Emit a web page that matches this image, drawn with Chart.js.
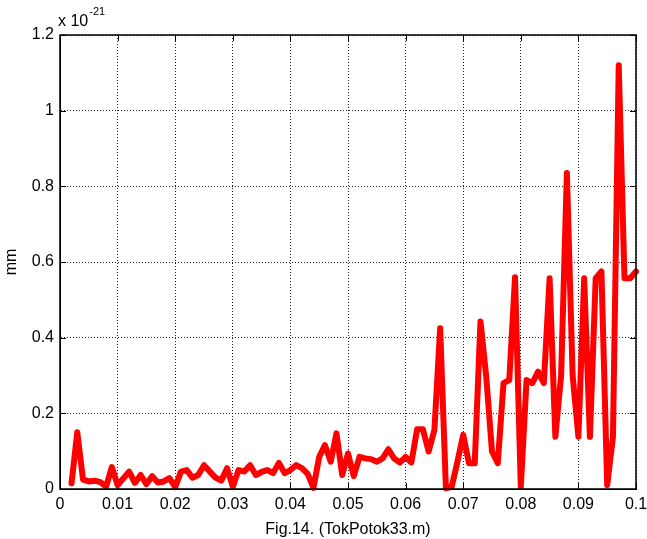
<!DOCTYPE html>
<html>
<head>
<meta charset="utf-8">
<title>Fig.14. (TokPotok33.m)</title>
<script src="https://cdn.jsdelivr.net/npm/chart.js@4.4.1/dist/chart.umd.min.js"></script>
<style>
  html, body { margin: 0; padding: 0; background: #fff; }
  #wrap { width: 647px; height: 539px; position: relative; }
</style>
</head>
<body>
<div id="wrap"><canvas id="plot"></canvas></div>
<script>
// ====================
// データ (y は x 10^-21 単位)
// ====================
const xValues = [
  0.002, 0.003, 0.004, 0.005, 0.006, 0.007, 0.008, 0.009, 0.010,
  0.011, 0.012, 0.013, 0.014, 0.015, 0.016, 0.017, 0.018, 0.019, 0.020,
  0.021, 0.022, 0.023, 0.024, 0.025, 0.026, 0.027, 0.028, 0.029, 0.030,
  0.031, 0.032, 0.033, 0.034, 0.035, 0.036, 0.037, 0.038, 0.039, 0.040,
  0.041, 0.042, 0.043, 0.044, 0.045, 0.046, 0.047, 0.048, 0.049, 0.050,
  0.051, 0.052, 0.053, 0.054, 0.055, 0.056, 0.057, 0.058, 0.059, 0.060,
  0.061, 0.062, 0.063, 0.064, 0.065, 0.066, 0.067, 0.068, 0.069, 0.070,
  0.071, 0.072, 0.073, 0.074, 0.075, 0.076, 0.077, 0.078, 0.079, 0.080,
  0.081, 0.082, 0.083, 0.084, 0.085, 0.086, 0.087, 0.088, 0.089, 0.090,
  0.091, 0.092, 0.093, 0.094, 0.095, 0.096, 0.097, 0.098, 0.099, 0.100
];
const mmValues = [
  0.015, 0.150, 0.025, 0.020, 0.022, 0.018, 0.006, 0.058, 0.010,
  0.028, 0.046, 0.016, 0.037, 0.013, 0.034, 0.017, 0.020, 0.029, 0.005,
  0.046, 0.050, 0.030, 0.037, 0.063, 0.046, 0.030, 0.022, 0.055, 0.006,
  0.050, 0.046, 0.063, 0.037, 0.045, 0.050, 0.042, 0.069, 0.042, 0.050,
  0.063, 0.055, 0.040, 0.003, 0.085, 0.116, 0.072, 0.147, 0.037, 0.094,
  0.034, 0.085, 0.081, 0.079, 0.072, 0.081, 0.105, 0.081, 0.070, 0.085,
  0.070, 0.158, 0.158, 0.099, 0.156, 0.425, 0.002, 0.006, 0.072, 0.143,
  0.068, 0.068, 0.443, 0.297, 0.099, 0.068, 0.280, 0.288, 0.560, 0.006,
  0.288, 0.280, 0.310, 0.280, 0.557, 0.138, 0.300, 0.835, 0.300, 0.138,
  0.557, 0.138, 0.557, 0.575, 0.010, 0.138, 1.120, 0.557, 0.557, 0.575
];
const xTicks = [0, 0.01, 0.02, 0.03, 0.04, 0.05, 0.06, 0.07, 0.08, 0.09, 0.1];
const yTicks = [0, 0.2, 0.4, 0.6, 0.8, 1, 1.2];
const yExponent = '-21';
const xTitle = 'Fig.14. (TokPotok33.m)';
const yTitle = 'mm';

const FONT = 'Arial, "Liberation Sans", sans-serif';

// 枠・内向き目盛り・指数ラベル (MATLAB風)
const matlabAxes = {
  id: 'matlabAxes',
  beforeDatasetsDraw(chart) {
    const { ctx, chartArea: a, scales } = chart;
    ctx.save();
    ctx.strokeStyle = '#000';
    ctx.lineWidth = 1;
    ctx.beginPath();
    xTicks.forEach(v => {
      const px = Math.round(scales.x.getPixelForValue(v)) + 0.5;
      ctx.moveTo(px, a.bottom); ctx.lineTo(px, a.bottom - 6);
      ctx.moveTo(px, a.top); ctx.lineTo(px, a.top + 6);
    });
    yTicks.forEach(v => {
      const py = Math.round(scales.y.getPixelForValue(v)) + 0.5;
      ctx.moveTo(a.left, py); ctx.lineTo(a.left + 6, py);
      ctx.moveTo(a.right, py); ctx.lineTo(a.right - 6, py);
    });
    ctx.stroke();
    ctx.restore();
  },
  afterDraw(chart) {
    const { ctx, chartArea: a } = chart;
    ctx.save();
    ctx.strokeStyle = '#000';
    ctx.lineWidth = 1.5;
    ctx.strokeRect(a.left, a.top, a.right - a.left, a.bottom - a.top);
    // x 10^-21
    ctx.fillStyle = '#000';
    ctx.textBaseline = 'alphabetic';
    ctx.font = '16px ' + FONT;
    ctx.fillText('x 10', a.left - 2, a.top - 9);
    const w = ctx.measureText('x 10').width;
    ctx.font = '11px ' + FONT;
    ctx.fillText(yExponent, a.left - 2 + w + 1, a.top - 20);
    ctx.restore();
  }
};

function drawChart() {
  const points = xValues.map((x, i) => ({ x: x, y: mmValues[i] }));
  new Chart(document.getElementById('plot'), {
    type: 'line',
    data: {
      datasets: [{
        data: points,
        borderColor: '#ff0000',
        borderWidth: 6,
        borderJoinStyle: 'round',
        borderCapStyle: 'round',
        pointRadius: 0,
        tension: 0,
        clip: false
      }]
    },
    options: {
      responsive: true,
      maintainAspectRatio: false,
      animation: false,
      layout: { padding: { top: 35, right: 11, left: 0, bottom: 0 } },
      plugins: { legend: { display: false }, tooltip: { enabled: false } },
      scales: {
        x: {
          type: 'linear',
          min: 0, max: 0.1,
          afterBuildTicks: s => { s.ticks = xTicks.map(v => ({ value: v })); },
          afterFit: s => { s.height = 50; s.paddingLeft = 0; s.paddingRight = 0; },
          ticks: {
            color: '#000', padding: 6, maxRotation: 0, autoSkip: false,
            font: { family: FONT, size: 16 },
            callback: v => String(Number(v.toFixed(2)))
          },
          grid: { color: '#222', lineWidth: 1, drawTicks: false },
          border: { display: true, color: '#000', dash: [1, 2] },
          title: {
            display: true, text: xTitle, color: '#000',
            font: { family: FONT, size: 16 }, padding: { top: 2, bottom: 0 }
          }
        },
        y: {
          min: 0, max: 1.2,
          afterBuildTicks: s => { s.ticks = yTicks.map(v => ({ value: v })); },
          afterFit: s => { s.width = 60; s.paddingTop = 0; s.paddingBottom = 0; },
          ticks: {
            color: '#000', padding: 6,
            font: { family: FONT, size: 16 },
            callback: v => String(Number(v.toFixed(1)))
          },
          grid: { color: '#222', lineWidth: 1, drawTicks: false },
          border: { display: true, color: '#000', dash: [1, 2] },
          title: {
            display: true, text: yTitle, color: '#000',
            font: { family: FONT, size: 16 }, padding: { top: 2, bottom: 0 }
          }
        }
      }
    },
    plugins: [matlabAxes]
  });
}

window.onload = () => {
  drawChart();
};
</script>
</body>
</html>
